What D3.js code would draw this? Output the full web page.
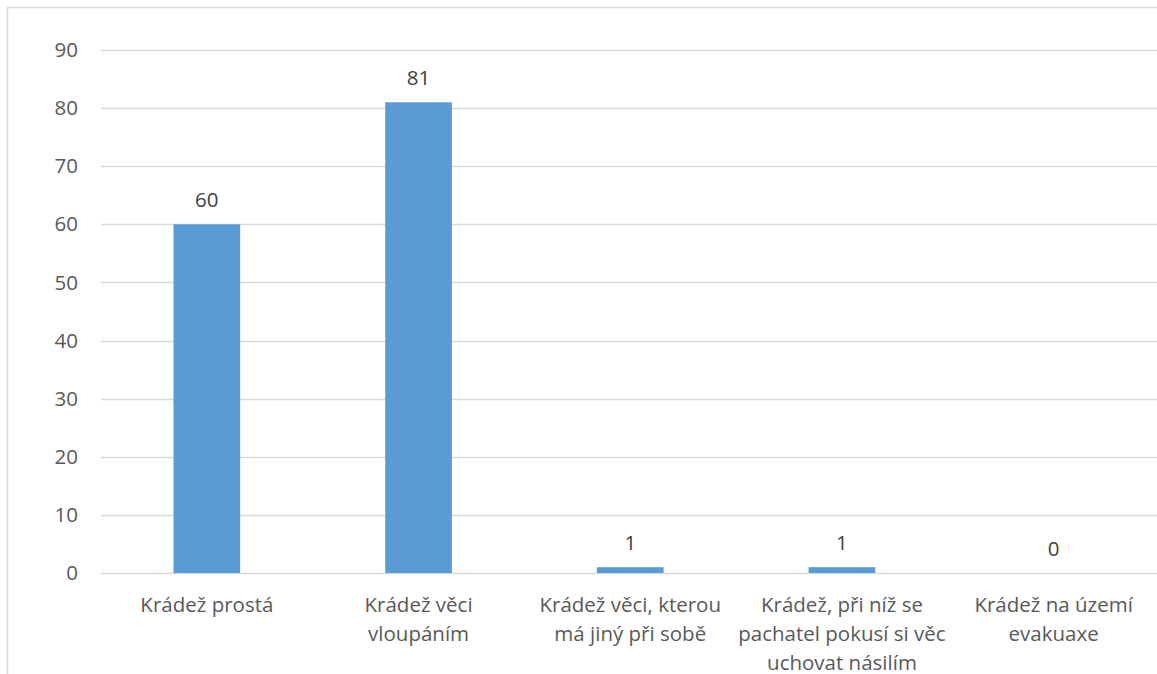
<!DOCTYPE html>
<html>
<head>
<meta charset="utf-8">
<script src="https://cdn.jsdelivr.net/npm/d3@7"></script>
<style>
  body { margin: 0; background: #fff; }
  svg text { font-family: "Open Sans", sans-serif; }
</style>
</head>
<body>
<div id="chart"></div>
<script>
var categories = [
    'Krádež prostá',
    'Krádež věci\nvloupáním',
    'Krádež věci, kterou\nmá jiný při sobě',
    'Krádež, při níž se\npachatel pokusí si věc\nuchovat násilím',
    'Krádež na území\nevakuaxe'
];
var values = [60, 81, 1, 1, 0];
var y_ticks = [0, 10, 20, 30, 40, 50, 60, 70, 80, 90];

var width = 1157;
var height = 674;
var margin = ({ top: 50, right: -2.5, bottom: 101, left: 101 });
var chart_width = width - margin.left - margin.right;
var chart_height = height - margin.top - margin.bottom;
var font_size = '20.5px';

var svg = d3.select('#chart')
    .append('svg')
    .attr('width', width)
    .attr('height', height);

// chart frame (cropped at right and bottom in the original)
svg.append('rect')
    .attr('x', 7.5)
    .attr('y', 7.5)
    .attr('width', width + 10)
    .attr('height', height + 10)
    .attr('fill', 'none')
    .attr('stroke', '#d9d9d9')
    .attr('stroke-width', 1.5);

var g = svg.append('g')
    .attr('transform', `translate(${margin.left}, ${margin.top})`);

var x = d3.scaleBand()
    .domain(categories)
    .range([0, chart_width])
    .paddingInner(0.685)
    .paddingOuter(0.3425);

var band = d3.scaleBand().domain(categories).range([0, chart_width]);

var y = d3.scaleLinear()
    .domain([0, 90])
    .range([chart_height, 0]);

g.append('g')
    .attr('id', 'grid')
    .selectAll('line').data(y_ticks).enter()
    .append('line')
    .attr('x1', 0)
    .attr('x2', chart_width)
    .attr('y1', function(d) { return Math.round(y(d)) + 0.5; })
    .attr('y2', function(d) { return Math.round(y(d)) + 0.5; })
    .attr('stroke', '#d9d9d9')
    .attr('stroke-width', 1.5);

var yaxis = g.append('g')
    .call(d3.axisLeft(y).tickValues(y_ticks).tickSize(0).tickPadding(23));
yaxis.select('.domain').remove();
yaxis.selectAll('text')
    .attr('fill', '#595959')
    .style('font-size', font_size)
    .style('font-family', '"Open Sans", sans-serif');

g.selectAll('rect.bar').data(values).enter()
    .append('rect')
    .attr('class', 'bar')
    .attr('x', function(d, i) { return x(categories[i]); })
    .attr('width', x.bandwidth())
    .attr('y', function(d) { return y(d); })
    .attr('height', function(d) { return y(0) - y(d); })
    .attr('fill', '#5b9bd5');

g.selectAll('text.value').data(values).enter()
    .append('text')
    .attr('class', 'value')
    .attr('x', function(d, i) { return x(categories[i]) + x.bandwidth() / 2; })
    .attr('y', function(d) { return y(d) - 17.5; })
    .attr('text-anchor', 'middle')
    .attr('fill', '#404040')
    .style('font-size', font_size)
    .text(function(d) { return d; });

var xlabels = g.selectAll('text.cat').data(categories).enter()
    .append('text')
    .attr('class', 'cat')
    .attr('text-anchor', 'middle')
    .attr('fill', '#595959')
    .style('font-size', font_size)
    .attr('transform', function(d) {
        return `translate(${band(d) + band.bandwidth() / 2}, ${chart_height + 38.5})`;
    });
xlabels.selectAll('tspan')
    .data(function(d) { return d.split('\n'); })
    .enter()
    .append('tspan')
    .attr('x', 0)
    .attr('y', function(d, i) { return i * 29; })
    .text(function(d) { return d; });
</script>
</body>
</html>
